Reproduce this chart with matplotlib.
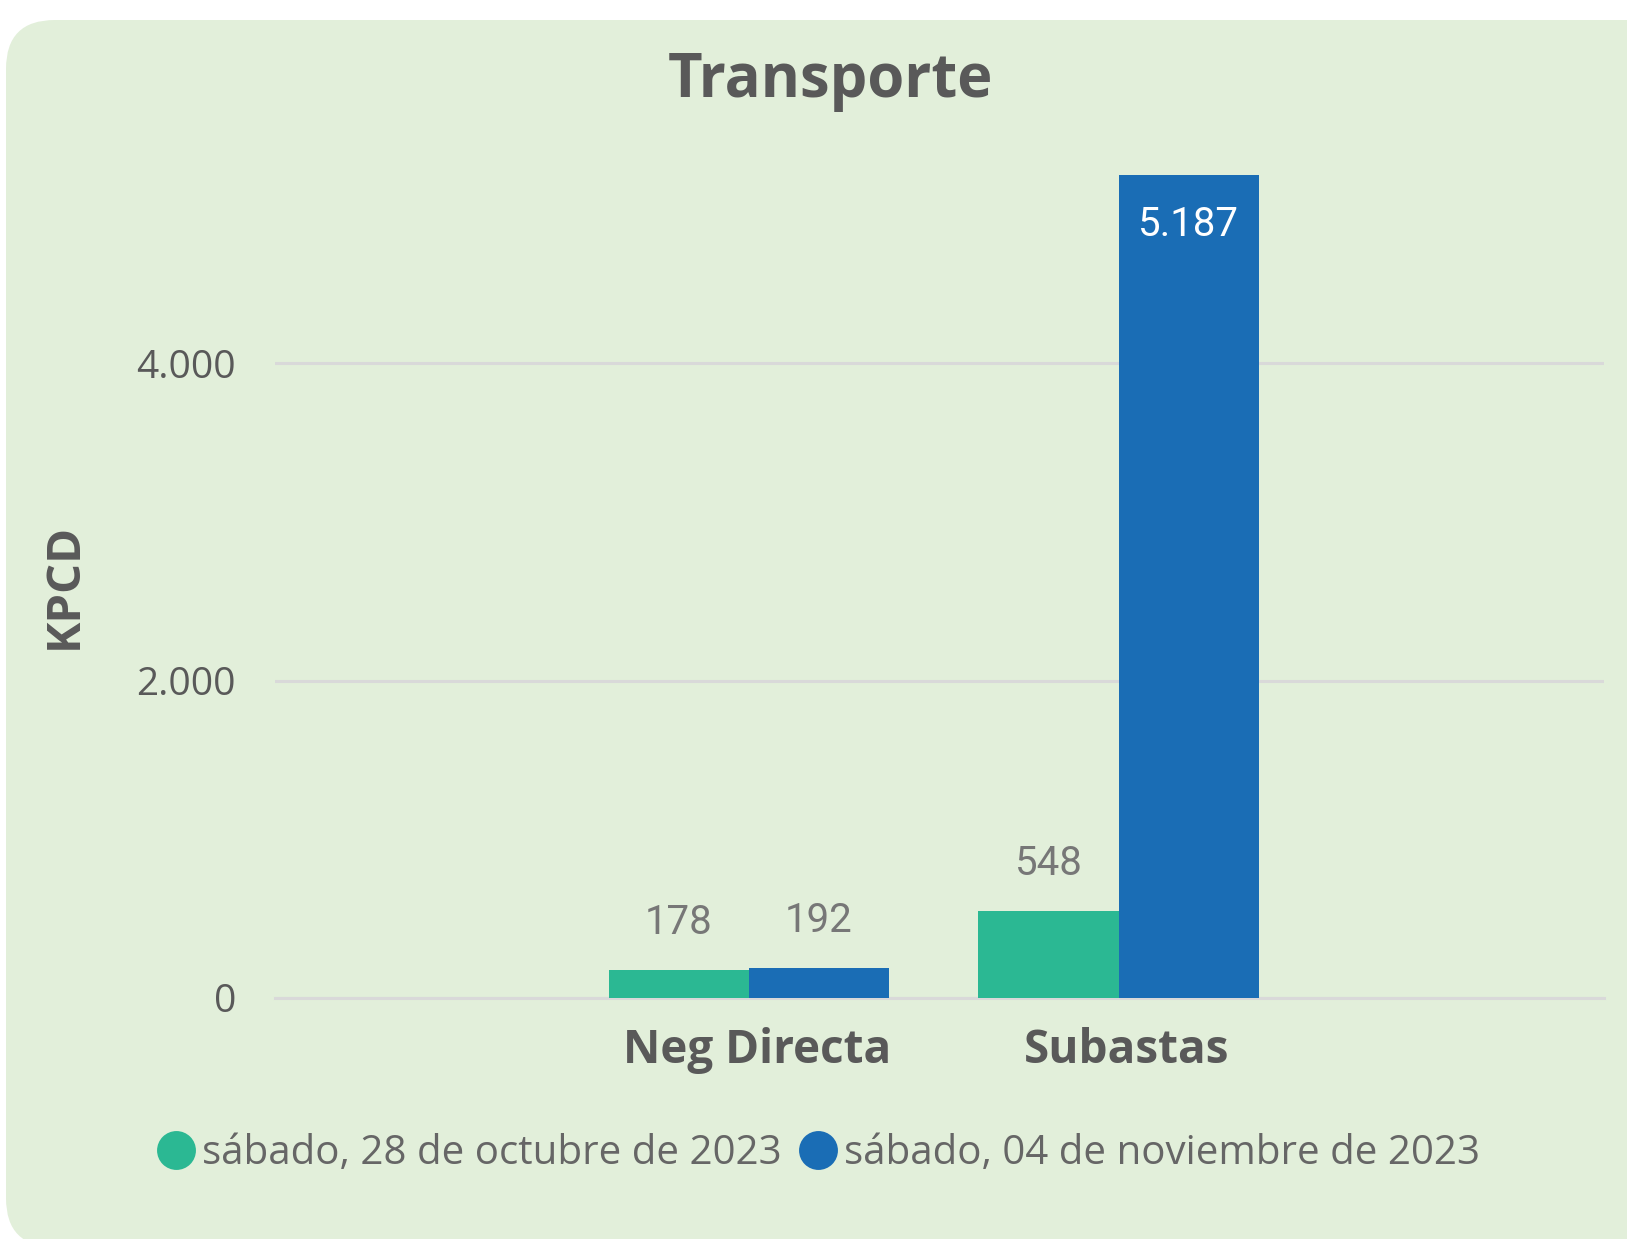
import matplotlib.pyplot as plt
from matplotlib.patches import FancyBboxPatch
from matplotlib.lines import Line2D
import numpy as np

# data
categories = ["Neg Directa", "Subastas"]
series_names = ["sábado, 28 de octubre de 2023", "sábado, 04 de noviembre de 2023"]
values_oct28 = [178, 548]
values_nov04 = [192, 5187]
series_colors = ["#2BB893", "#1A6DB5"]
yticks = [0, 2000, 4000]

plt.rcParams['font.family'] = ['Open Sans', 'DejaVu Sans']

W, H = 1627, 1239
fig = plt.figure(figsize=(W / 100, H / 100), dpi=100)
fig.patch.set_facecolor("white")

# rounded green card behind everything
card = FancyBboxPatch((6 / W, -8 / H), 1.2, (H - 20 + 8) / H,
                      boxstyle="round,pad=0,rounding_size=0.03",
                      transform=fig.transFigure, facecolor="#E2EFDA",
                      edgecolor="none", zorder=-10, mutation_aspect=W / H)
fig.patches.append(card)

ax = fig.add_axes([275 / W, 1 - 998 / H, (1604 - 275) / W, (998 - 141) / H])
ax.set_facecolor("none")
ax.set_zorder(1)

x = np.arange(len(categories))
bw = 0.379
bars1 = ax.bar(x - bw / 2, values_oct28, bw, color=series_colors[0], zorder=3)
bars2 = ax.bar(x + bw / 2, values_nov04, bw, color=series_colors[1], zorder=3)

ax.set_xlim(-1.283, 2.314)
ax.set_ylim(0, 5400)

ax.set_yticks(yticks)
ax.set_yticklabels([f"{v:,}".replace(",", ".") for v in yticks],
                   fontsize=28, color="#595959")
# category labels sit a touch right of the group centre in the original
ax.set_xticks(x + 0.022)
ax.set_xticklabels(categories, fontsize=33, fontweight="bold", color="#595959")
ax.tick_params(axis="both", length=0)
ax.tick_params(axis="x", pad=21)
ax.tick_params(axis="y", pad=28)

ax.grid(axis="y", color="#D9D9D9", linewidth=2.2, zorder=0)
ax.axhline(0, color="#D9D9D9", linewidth=2.2, zorder=2, clip_on=False)
for s in ax.spines.values():
    s.set_visible(False)

ax.set_ylabel("KPCD", fontsize=34, fontweight="bold", color="#595959")
ax.yaxis.set_label_coords(-(275 - 88) / (1604 - 275), (998 - 586) / (998 - 141))

# data labels
for b, v in zip(list(bars1) + list(bars2), values_oct28 + values_nov04):
    txt = f"{v:,}".replace(",", ".")
    if v > 3000:
        ax.annotate(txt, (b.get_x() + b.get_width() / 2, v), xytext=(0, -36),
                    textcoords="offset points", ha="center", va="center",
                    fontsize=29, color="white", family="Roboto")
    else:
        ax.annotate(txt, (b.get_x() + b.get_width() / 2, v), xytext=(0, 34),
                    textcoords="offset points", ha="center", va="center",
                    fontsize=29, color="#777777", family="Roboto")

fig.text(830 / W, 1 - 81 / H, "Transporte", ha="center", va="center",
         fontsize=43, fontweight="bold", color="#595959")

handles = [Line2D([0], [0], marker="o", color="none", markerfacecolor=c,
                  markeredgecolor="none", markersize=28) for c in series_colors]
fig.legend(handles, series_names, loc="center", ncol=2,
           bbox_to_anchor=(820 / W, 1 - 1154 / H), frameon=False,
           fontsize=29, labelcolor="#666666", handlelength=0.8,
           handletextpad=0.25, columnspacing=0.5)

fig.savefig("out.png", dpi=100)
